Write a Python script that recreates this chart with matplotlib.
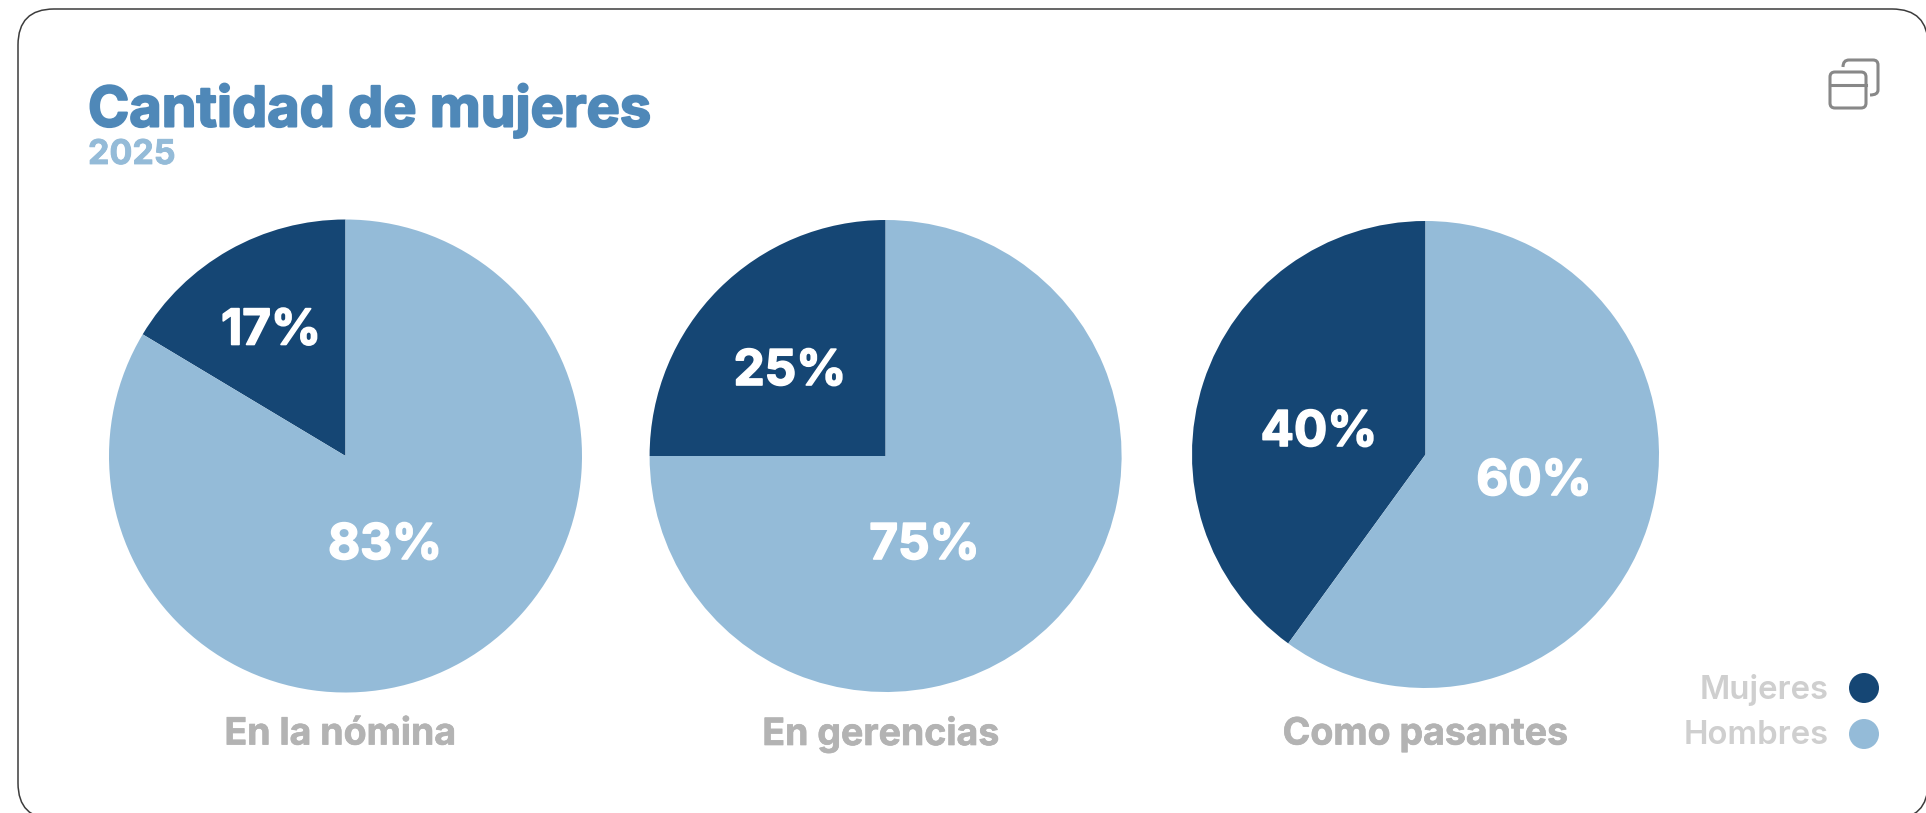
import matplotlib
matplotlib.use("Agg")
import matplotlib.pyplot as plt
import matplotlib.patheffects as pe
from matplotlib.patches import FancyBboxPatch, Circle
from matplotlib.path import Path
from matplotlib.patches import PathPatch

W, H = 1926, 813
title = "Cantidad de mujeres"
subtitle = "2025"
categories = ["En la nómina", "En gerencias", "Como pasantes"]
mujeres = [16.4, 25, 40]
hombres = [83.6, 75, 60]
mujeres_labels = ["17%", "25%", "40%"]
hombres_labels = ["83%", "75%", "60%"]
series_names = ["Mujeres", "Hombres"]
DARK, LIGHT = "#154674", "#94bbd8"
FONT = "Inter"

fig = plt.figure(figsize=(W / 100, H / 100), dpi=100, facecolor="white")
ax = fig.add_axes([0, 0, 1, 1])


def Y(py):
    return H - py


def heavy(col, w):
    return [pe.withStroke(linewidth=w, foreground=col)]


centers = [(345.5, 456, 236.5), (885.6, 456, 236), (1425.5, 454.5, 233.5)]
cat_x = [340.5, 881, 1425.5]
lab_m = [(271, 331.5), (790, 372), (1319, 433)]
lab_h = [(385, 546), (924.5, 546), (1534, 482)]

ax.add_patch(FancyBboxPatch((18, Y(819)), 1910, 810,
                            boxstyle="round,pad=0,rounding_size=36",
                            fc="white", ec="#3c3c3c", lw=1.1, zorder=0))

for i, cat in enumerate(categories):
    cx, cy, r = centers[i]
    ax.pie([mujeres[i], hombres[i]], colors=[DARK, LIGHT], startangle=90,
           center=(cx, Y(cy)), radius=r, counterclock=True,
           wedgeprops=dict(linewidth=0), frame=True)
    ax.text(lab_m[i][0], Y(lab_m[i][1]), mujeres_labels[i], color="white", fontsize=35.5,
            fontweight="bold", family=FONT, ha="center", va="center", zorder=5,
            path_effects=heavy("white", 1.2))
    ax.text(lab_h[i][0], Y(lab_h[i][1]), hombres_labels[i], color="white", fontsize=35.5,
            fontweight="bold", family=FONT, ha="center", va="center", zorder=5,
            path_effects=heavy("white", 1.2))
    ax.text(cat_x[i], Y(734.5), cat, color="#b3b3b3", fontsize=27, fontweight="bold",
            family=FONT, ha="center", va="center", path_effects=heavy("#b3b3b3", 0.5))

ax.set_xlim(0, W)
ax.set_ylim(0, H)
ax.set_aspect("equal")
ax.axis("off")

ax.text(88, Y(110.5), title, color="#4f88b8", fontsize=40.2, fontweight="bold", family=FONT,
        ha="left", va="center", path_effects=heavy("#4f88b8", 1.5))
ax.text(88, Y(155), subtitle, color=LIGHT, fontsize=24.5, fontweight="bold", family=FONT,
        ha="left", va="center", path_effects=heavy(LIGHT, 0.6))

# legend
for name, col, py in zip(series_names, [DARK, LIGHT], [688, 734]):
    ax.add_patch(Circle((1864, Y(py)), 15, fc=col, ec="none", zorder=3))
    ax.text(1828.5, Y(py + 1.5), name, color="#cfcfcf", fontsize=23.7, fontweight="semibold",
            family=FONT, ha="right", va="center")

# window icon
icon = "#888888"
ax.add_patch(FancyBboxPatch((1830, Y(108)), 36, 36, boxstyle="round,pad=0,rounding_size=5",
                            fc="none", ec=icon, lw=2.2, zorder=4))
ax.plot([1830, 1866], [Y(85), Y(85)], color=icon, lw=2.2, zorder=4)
back = Path([(1843, Y(67)), (1843, Y(60)), (1849, Y(60)), (1873, Y(60)), (1878, Y(60)),
             (1878, Y(65)), (1878, Y(90)), (1878, Y(95)), (1870, Y(95))],
            [Path.MOVETO, Path.CURVE3, Path.CURVE3, Path.LINETO, Path.CURVE3,
             Path.CURVE3, Path.LINETO, Path.CURVE3, Path.CURVE3])
ax.add_patch(PathPatch(back, fc="none", ec=icon, lw=2.2, zorder=4))

fig.savefig("out.png", dpi=100)
